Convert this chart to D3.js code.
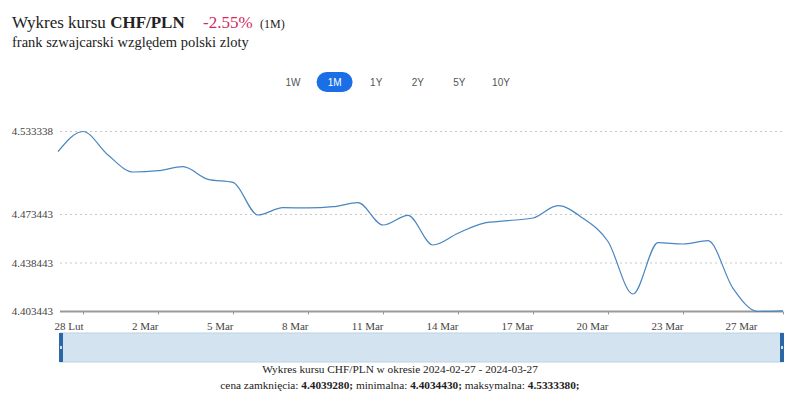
<!DOCTYPE html>
<html><head><meta charset="utf-8">
<script src="https://cdn.jsdelivr.net/npm/d3@7"></script>
<style>
body{margin:0;background:#fff;}
svg{display:block;}
</style></head>
<body>
<svg id="chart" width="800" height="415"></svg>
<script>
const dates = ["2024-02-27","2024-02-28","2024-02-29","2024-03-01","2024-03-02","2024-03-03","2024-03-04","2024-03-05","2024-03-06","2024-03-07","2024-03-08","2024-03-09","2024-03-10","2024-03-11","2024-03-12","2024-03-13","2024-03-14","2024-03-15","2024-03-16","2024-03-17","2024-03-18","2024-03-19","2024-03-20","2024-03-21","2024-03-22","2024-03-23","2024-03-24","2024-03-25","2024-03-26","2024-03-27"];
const rates = [4.51876,4.533338,4.51638,4.50411,4.50505,4.50794,4.49884,4.49668,4.47308,4.47835,4.47820,4.47907,4.48196,4.46586,4.47280,4.45143,4.45987,4.46709,4.46897,4.47092,4.47979,4.47070,4.45396,4.41607,4.45309,4.45215,4.45453,4.42018,4.403443,4.403928];
const yTicks = [4.403443,4.438443,4.473443,4.533338];
const xTickDates = ["2024-02-28","2024-03-02","2024-03-05","2024-03-08","2024-03-11","2024-03-14","2024-03-17","2024-03-20","2024-03-23","2024-03-27"];
const xTickLabels = ["28 Lut","2 Mar","5 Mar","8 Mar","11 Mar","14 Mar","17 Mar","20 Mar","23 Mar","27 Mar"];
const ranges = ["1W","1M","1Y","2Y","5Y","10Y"];
const activeRange = "1M";
const pair = "CHF/PLN";
const change = "-2.55%";
const subtitle = "frank szwajcarski względem polski zloty";
const periodText = "Wykres kursu CHF/PLN w okresie 2024-02-27 - 2024-03-27";
const stats = [["cena zamknięcia: ","4.4039280"],["minimalna: ","4.4034430"],["maksymalna: ","4.5333380"]];

const parse = d3.utcParse("%Y-%m-%d");
const data = dates.map((d,i)=>({date:parse(d), v:rates[i]}));
const serif = "'Liberation Serif','Times New Roman',serif";
const sans = "'Liberation Sans','Noto Sans',Arial,sans-serif";

const svg = d3.select("#chart");
const x = d3.scaleUtc().domain([parse(dates[0]), parse(dates[dates.length-1])]).range([58, 783]);
const y = d3.scaleLinear().domain([yTicks[0], yTicks[yTicks.length-1]]).range([311.5, 131.5]);

// Title
const t = svg.append("text").attr("x",12).attr("y",28).attr("font-family",serif).attr("font-size",17).attr("fill","#222");
t.append("tspan").text("Wykres kursu ");
t.append("tspan").attr("font-weight","bold").text(pair);
svg.append("text").attr("x",203).attr("y",28).attr("font-family",serif).attr("font-size",17).attr("fill","#d42a5b").text(change);
svg.append("text").attr("x",260).attr("y",28).attr("font-family",serif).attr("font-size",12).attr("fill","#222").text("(1M)");
svg.append("text").attr("x",12).attr("y",47).attr("font-family",serif).attr("font-size",14.5).attr("fill","#222").text(subtitle);

// range buttons
const bx = d3.scalePoint().domain(ranges).range([293,501]);
const btn = svg.append("g").selectAll("g").data(ranges).join("g").attr("transform",d=>`translate(${bx(d)},82)`);
btn.filter(d=>d===activeRange).append("rect").attr("x",-18).attr("y",-10).attr("width",36).attr("height",20).attr("rx",10).attr("fill","#1a6fe6");
btn.append("text").attr("text-anchor","middle").attr("dy","0.35em").attr("font-family",sans).attr("font-size",10)
  .attr("fill",d=>d===activeRange?"#fff":"#555").text(d=>d);

// grid
svg.append("g").selectAll("line").data(yTicks.slice(1)).join("line")
  .attr("x1",60).attr("x2",783).attr("y1",d=>y(d)).attr("y2",d=>y(d))
  .attr("stroke","#c8c8c8").attr("stroke-width",1).attr("stroke-dasharray","2,3");

// y labels
svg.append("g").selectAll("text").data(yTicks).join("text")
  .attr("x",53).attr("y",d=>y(d)).attr("dy","0.35em").attr("text-anchor","end")
  .attr("font-family",serif).attr("font-size",11).attr("fill","#444").text(d=>d.toFixed(6));

// x axis
const xa = svg.append("g").attr("transform","translate(0,311.5)")
  .call(d3.axisBottom(x).tickValues(xTickDates.map(parse)).tickFormat((d,i)=>xTickLabels[i]).tickSize(3).tickPadding(8));
xa.select(".domain").attr("stroke","#999").attr("stroke-width",2).attr("d","M60,0H783");
xa.selectAll(".tick line").attr("stroke","#999");
xa.selectAll(".tick text").attr("font-family",serif).attr("font-size",11).attr("fill","#444")
  .attr("text-anchor","end").attr("x",function(d){ const px=x(d); return Math.min(0, 757-px); });

// line
svg.append("path").datum(data).attr("fill","none").attr("stroke","#4a86c1").attr("stroke-width",1.2)
  .attr("d", d3.line().x(d=>x(d.date)).y(d=>y(d.v)).curve(d3.curveMonotoneX));

// navigator
svg.append("rect").attr("x",60).attr("y",333).attr("width",723).attr("height",29).attr("fill","#d3e3ef").attr("stroke","#bcd3e6");
[60,781].forEach(hx=>{
  svg.append("rect").attr("x",hx-1).attr("y",333).attr("width",4).attr("height",29).attr("fill","#2b67a6");
  svg.append("rect").attr("x",hx).attr("y",346).attr("width",2).attr("height",3).attr("fill","#cfe0f0");
});

// bottom text
svg.append("text").attr("x",400).attr("y",373).attr("text-anchor","middle").attr("font-family",serif).attr("font-size",11.3).attr("fill","#222").text(periodText);
const b = svg.append("text").attr("x",400).attr("y",389).attr("text-anchor","middle").attr("font-family",serif).attr("font-size",11.3).attr("fill","#222");
stats.forEach((s,i)=>{ b.append("tspan").text((i?" ":"")+s[0]); b.append("tspan").attr("font-weight","bold").text(s[1]+";"); });
</script>
</body></html>
